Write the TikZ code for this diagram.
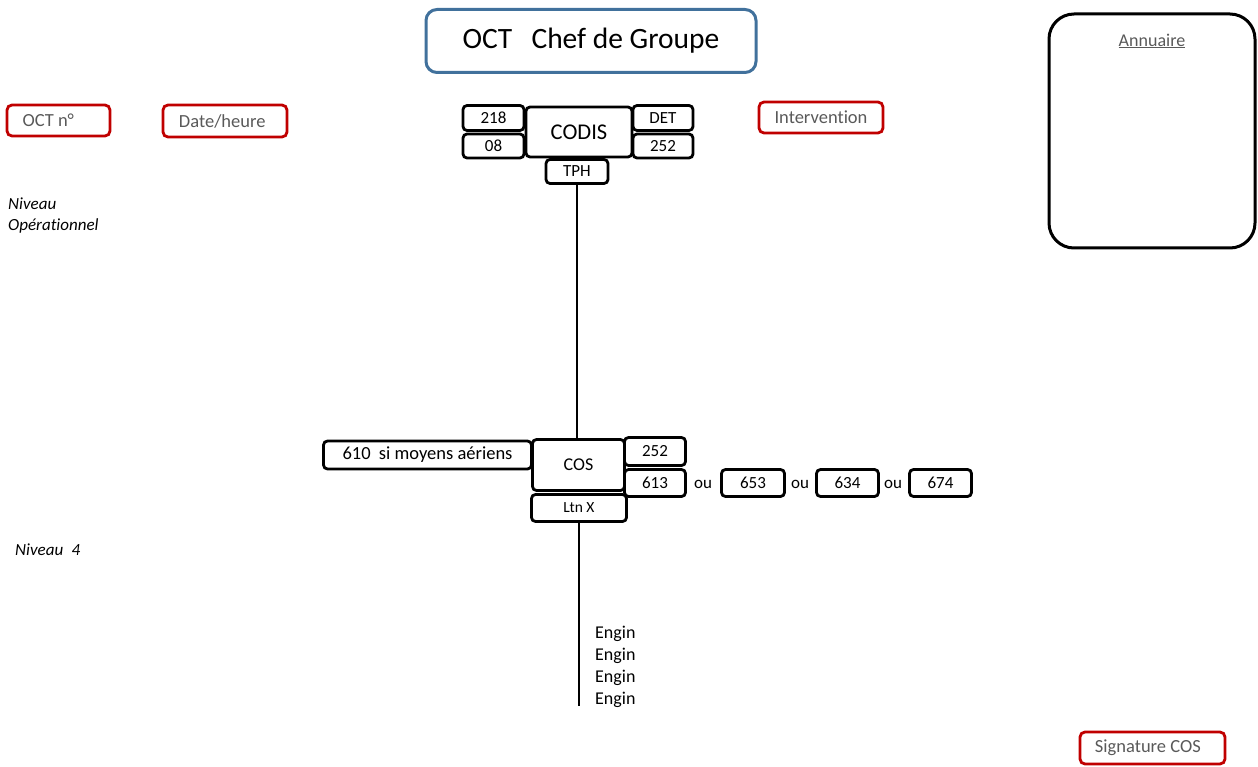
\documentclass[tikz,border=0pt]{standalone}
\usepackage{fontspec}
\setmainfont{Carlito}[Ligatures=NoCommon]
\usetikzlibrary{positioning}

\definecolor{octBlue}{HTML}{41719C}
\definecolor{octRed}{HTML}{C00000}
\definecolor{octGray}{HTML}{595959}

\begin{document}
\begin{tikzpicture}[
    x=1pt, y=-1pt,
    cell/.style={
        rectangle,
        rounded corners=4pt,
        draw,
        line width=2.8pt,
        inner sep=0pt,
        align=center,
        font=\fontsize{17}{20}\selectfont
    },
    small/.style={cell, font=\fontsize{15.5}{18}\selectfont},
    redbox/.style={
        cell,
        draw=octRed,
        text=octGray,
        rounded corners=5pt,
        font=\fontsize{18.5}{22}\selectfont
    },
    note/.style={inner sep=0pt, font=\fontsize{18}{22}\selectfont},
    niveau/.style={inner sep=0pt, align=left, font=\itshape\fontsize{17}{21}\selectfont},
    link/.style={line width=1.3pt}
]
\useasboundingbox (0,0) rectangle (1258,767);

% en-tete
\node[cell, draw=octBlue, line width=3pt, rounded corners=11pt,
      minimum width=330pt, minimum height=63pt,
      font=\fontsize{29.5}{34}\selectfont] (title) at (591,41) {OCT\hspace{0.65em}Chef de Groupe};

\node[redbox, minimum width=103pt, minimum height=31pt] (octno) at (58.5,120.5) {OCT n°\hspace{1.1em}};
\node[redbox, minimum width=124pt, minimum height=32pt] (date) at (225,121) {Date/heure\hspace{0.3em}};
\node[redbox, minimum width=124pt, minimum height=31pt] (interv) at (821,117.5) {Intervention};
\node[redbox, minimum width=145pt, minimum height=32pt] (sign) at (1152.5,748) {Signature COS\hspace{0.5em}};

\node[cell, line width=3pt, rounded corners=25pt,
      minimum width=206pt, minimum height=234pt] (annu) at (1152,131) {};
\node[note, text=octGray] (annutitle) at (1152,41) {\underline{Annuaire}};

\node[niveau, anchor=north west] (nivop) at (8,198) {Niveau\\Opérationnel};
\node[niveau, anchor=west] (niv4) at (15,550) {Niveau\hspace{0.5em}4};

% CODIS
\node[cell, minimum width=106pt, minimum height=50pt,
      font=\fontsize{22.5}{26}\selectfont] (codis) at (579,132) {CODIS};
\node[cell, minimum width=61pt, minimum height=25pt] (c218) at (493.5,118) {218};
\node[cell, minimum width=61pt, minimum height=24pt] (c08) at (493.5,146) {08};
\node[cell, minimum width=60pt, minimum height=25pt] (det) at (663,118) {DET};
\node[cell, minimum width=60pt, minimum height=24pt] (c252a) at (663,146) {252};
\node[cell, minimum width=62pt, minimum height=24pt] (tph) at (577,171.5) {TPH};

% COS
\node[cell, minimum width=92pt, minimum height=51pt,
      font=\fontsize{18}{21}\selectfont] (cos) at (578.5,465) {COS};
\node[cell, minimum width=61pt, minimum height=28pt] (c252b) at (655,451.5) {252};
\node[cell, minimum width=61pt, minimum height=27pt] (c613) at (655,483) {613};
\node[cell, minimum width=63pt, minimum height=27pt] (c653) at (753,483) {653};
\node[cell, minimum width=62pt, minimum height=27pt] (c634) at (847.5,483) {634};
\node[cell, minimum width=62pt, minimum height=27pt] (c674) at (940.5,483) {674};
\node[note, font=\fontsize{17}{20}\selectfont] (ou1) at (703,484) {ou};
\node[note, font=\fontsize{17}{20}\selectfont] (ou2) at (800,484) {ou};
\node[note, font=\fontsize{17}{20}\selectfont] (ou3) at (893,484) {ou};
\node[cell, minimum width=208pt, minimum height=28pt,
      font=\fontsize{18.5}{21}\selectfont] (c610) at (427.5,455) {610\hspace{0.45em}si moyens aériens};
\node[small, minimum width=95pt, minimum height=27pt] (ltn) at (579,508) {Ltn X};

\node[note, anchor=north west, align=left] (engins) at (595,626) {Engin\\Engin\\Engin\\Engin};
\coordinate (bottom) at (578,706);

\draw[link] (tph.south) -- (tph.south |- cos.north);
\draw[link] (ltn.south) -- (ltn.south |- bottom);

\end{tikzpicture}
\end{document}
